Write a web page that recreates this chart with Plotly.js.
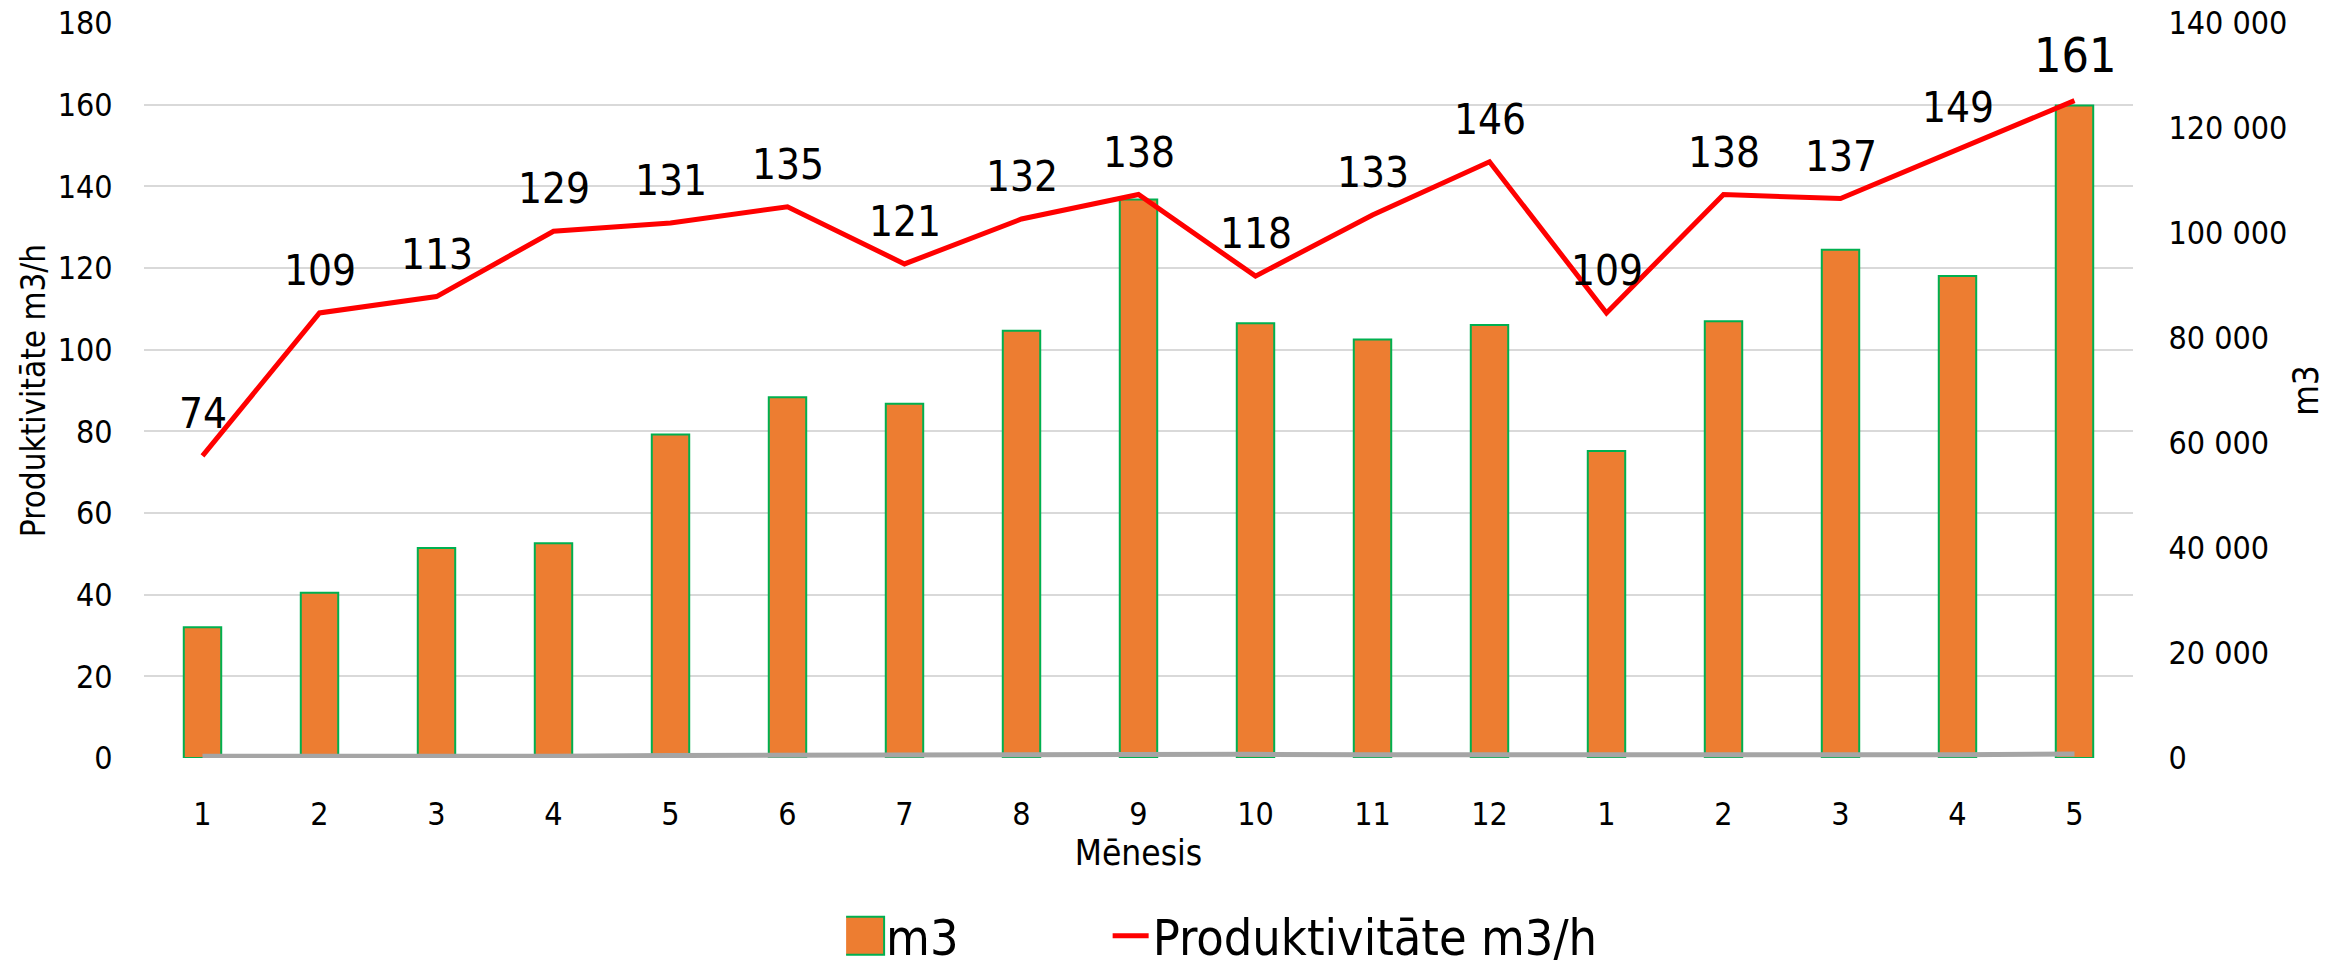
<!DOCTYPE html>
<html>
<head>
<meta charset="utf-8">
<script src="https://cdn.plot.ly/plotly-3.0.1.min.js"></script>
<style>html,body{margin:0;padding:0;background:#fff;}#chart{width:2326px;height:967px;}</style>
</head>
<body>
<div id="chart"></div>
<script>
// Month labels (two years: 1..12 then 1..5)
const months = ['1','2','3','4','5','6','7','8','9','10','11','12','1','2','3','4','5'];
// m3 volume per month (right axis)
const volume = [24900, 31500, 40000, 40900, 61600, 68700, 67500, 81400, 106400, 82800, 79700, 82500, 58500, 83200, 96800, 91800, 124300];
// Productivity m3/h (left axis)
const productivity = [74, 109, 113, 129, 131, 135, 121, 132, 138, 118, 133, 146, 109, 138, 137, 149, 161];
// Grey helper series near zero (right axis)
const hours = [340, 290, 350, 320, 470, 510, 560, 620, 770, 700, 600, 570, 540, 600, 710, 620, 770];

const FONT = '"DejaVu Sans Condensed", "DejaVu Sans", sans-serif';
const idx = months.map((m, i) => i);

const traces = [
  {
    type: 'bar', name: 'm3', x: idx, y: volume, yaxis: 'y', xaxis: 'x',
    width: 0.32, legend: 'legend',
    marker: {color: '#ED7D31', line: {color: '#00B050', width: 2}},
    hoverinfo: 'skip'
  },
  {
    type: 'scatter', mode: 'lines', name: 'hours', x: idx, y: hours, yaxis: 'y', xaxis: 'x',
    line: {color: '#A5A5A5', width: 5}, showlegend: false, hoverinfo: 'skip'
  },
  {
    type: 'scatter', mode: 'lines', name: 'Produktivitāte m3/h', x: idx, y: productivity,
    yaxis: 'y2', xaxis: 'x', legend: 'legend2',
    line: {color: '#FF0000', width: 5}, hoverinfo: 'skip'
  }
];

const annotations = productivity.map((v, i) => ({
  x: i, y: v, xref: 'x', yref: 'y2', text: String(v), showarrow: false,
  yanchor: 'bottom', xanchor: 'center', yshift: 16,
  font: {family: FONT, size: i === productivity.length - 1 ? 48 : 42, color: '#000'}
}));

const legendFont = {family: FONT, size: 50, color: '#000'};

const layout = {
  width: 2326, height: 967,
  margin: {l: 144, r: 193, t: 23, b: 209, pad: 0, autoexpand: false},
  paper_bgcolor: '#fff', plot_bgcolor: '#fff',
  font: {family: FONT, size: 32, color: '#000'},
  separators: ', ',
  showlegend: true,
  legend: {
    orientation: 'h', x: 0.353, xanchor: 'left', y: -0.295, yanchor: 'bottom',
    font: legendFont, bgcolor: 'rgba(0,0,0,0)', borderwidth: 0
  },
  legend2: {
    orientation: 'h', x: 0.487, xanchor: 'left', y: -0.295, yanchor: 'bottom',
    font: legendFont, bgcolor: 'rgba(0,0,0,0)', borderwidth: 0
  },
  xaxis: {
    tickmode: 'array', tickvals: idx, ticktext: months, range: [-0.5, months.length - 0.5],
    showgrid: false, zeroline: false, showline: false,
    ticks: 'outside', ticklen: 28, tickcolor: 'rgba(0,0,0,0)',
    tickfont: {family: FONT, size: 32, color: '#000'},
    title: {text: 'Mēnesis', font: {family: FONT, size: 35, color: '#000'}, standoff: 7}
  },
  yaxis: {
    side: 'right', range: [0, 140000], dtick: 20000, tick0: 0, tickformat: ',d',
    showgrid: false, zeroline: false, showline: false,
    ticks: 'outside', ticklen: 28, tickcolor: 'rgba(0,0,0,0)',
    tickfont: {family: FONT, size: 32, color: '#000'},
    title: {text: 'm3', font: {family: FONT, size: 35, color: '#000'}, standoff: 11}
  },
  yaxis2: {
    overlaying: 'y', side: 'left', range: [0, 180], dtick: 20, tick0: 0,
    showgrid: true, gridcolor: '#D9D9D9', gridwidth: 2, zeroline: false, showline: false,
    ticks: 'outside', ticklen: 24, tickcolor: 'rgba(0,0,0,0)',
    tickfont: {family: FONT, size: 32, color: '#000'},
    title: {text: 'Produktivitāte m3/h', font: {family: FONT, size: 33, color: '#000'}, standoff: 2}
  },
  annotations: annotations
};

function enlargeLegendSymbols() {
  // bar swatch (first legend): the only path inside its legendpoints group
  document.querySelectorAll('g.legend g.legendpoints path').forEach(function (p) {
    p.setAttribute('d', 'M18,19H-32V-19H18Z');
  });
  document.querySelectorAll('g.legendlines path').forEach(function (p) {
    p.setAttribute('d', 'M-12,0h48');
  });
}

const gd = document.getElementById('chart');
Plotly.newPlot(gd, traces, layout, {displayModeBar: false, staticPlot: true}).then(function () {
  enlargeLegendSymbols();
  gd.on('plotly_afterplot', enlargeLegendSymbols);
  setTimeout(enlargeLegendSymbols, 50);
  setTimeout(enlargeLegendSymbols, 300);
});
</script>
</body>
</html>
